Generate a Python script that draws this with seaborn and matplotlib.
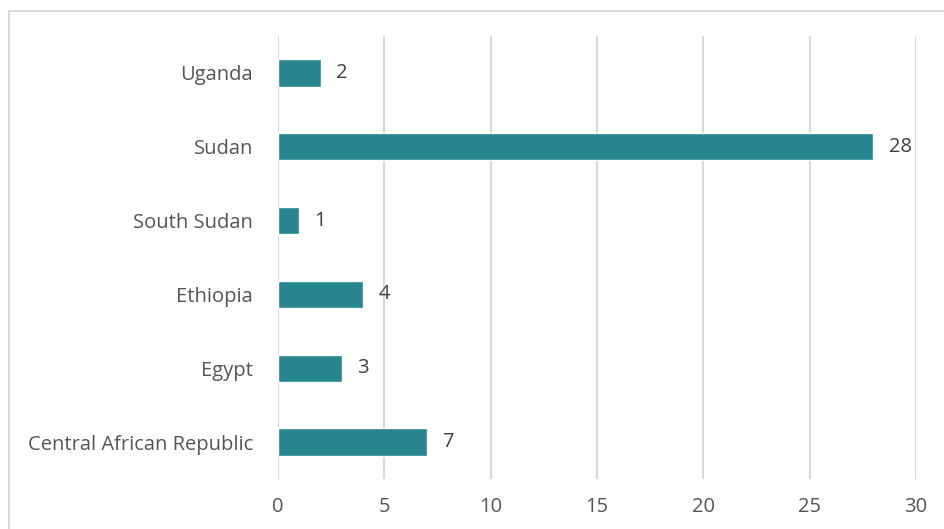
import matplotlib
matplotlib.use("Agg")
import matplotlib.pyplot as plt
import seaborn as sns
import pandas as pd
from matplotlib.patches import Rectangle

# Chart data
countries = ['Uganda', 'Sudan', 'South Sudan', 'Ethiopia', 'Egypt', 'Central African Republic']
counts = [2, 28, 1, 4, 3, 7]
x_ticks = [0, 5, 10, 15, 20, 25, 30]

df = pd.DataFrame({'country': countries, 'count': counts})

sns.set_style('white')
plt.rcParams['font.family'] = ['Open Sans', 'DejaVu Sans']

fig = plt.figure(figsize=(9.44, 5.29), dpi=100)
ax = fig.add_axes([278 / 944, 1 - 479 / 529, (916 - 278) / 944, (479 - 36) / 529])

# outer frame like the chart area border
fig.patches.append(Rectangle((9 / 944, -0.05), 1.1, 1.05 - 11 / 529, transform=fig.transFigure,
                             fill=False, edgecolor='#d9d9d9', linewidth=1.5, zorder=0))

sns.barplot(data=df, x='count', y='country', orient='h', color='#27858f', width=0.37,
            saturation=1, ax=ax, zorder=3)

for i, v in enumerate(counts):
    ax.annotate(str(v), (v, i), xytext=(11, 0), textcoords='offset points',
                va='center', ha='left', fontsize=14.5, color='#404040')

ax.set_xlim(0, 30)
ax.set_ylim(5.5, -0.5)
ax.set_xticks(x_ticks)
ax.grid(axis='x', color='#d9d9d9', linewidth=1.5, zorder=0)
ax.grid(axis='y', visible=False)
for s in ax.spines.values():
    s.set_visible(False)
ax.tick_params(axis='both', length=0, labelsize=14.5, labelcolor='#555555')
ax.tick_params(axis='x', pad=13)
ax.tick_params(axis='y', pad=18)
ax.set_xlabel('')
ax.set_ylabel('')

fig.savefig('out.png', dpi=100)
